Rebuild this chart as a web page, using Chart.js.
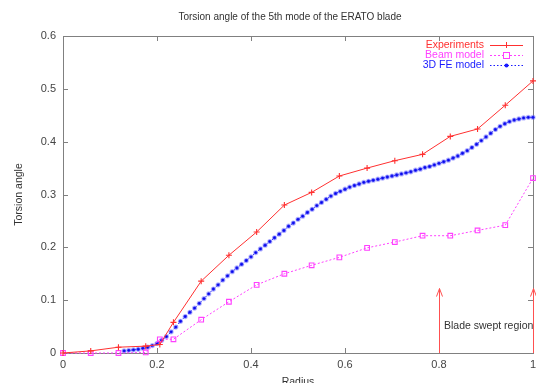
<!DOCTYPE html>
<html>
<head>
<meta charset="utf-8">
<script src="https://cdn.jsdelivr.net/npm/chart.js@4"></script>
<style>
  html, body { margin: 0; padding: 0; background: #fff; }
  #wrap { width: 536px; height: 383px; position: relative; }
</style>
</head>
<body>
<div id="wrap"><canvas id="c"></canvas></div>
<script>
// ── data ─────────────────────────────────────────────
const radiusExp = [0, 0.059, 0.118, 0.176, 0.206, 0.235, 0.294, 0.353, 0.412, 0.471,
                   0.529, 0.588, 0.647, 0.706, 0.765, 0.824, 0.882, 0.941, 1.0];
const experiments = [0, 0.004, 0.011, 0.013, 0.016, 0.058, 0.136, 0.185, 0.229, 0.280,
                     0.304, 0.335, 0.350, 0.364, 0.376, 0.410, 0.424, 0.469, 0.515];
const beamModel = [0, 0, 0, 0.001, 0.026, 0.026, 0.063, 0.097, 0.129, 0.150,
                   0.166, 0.181, 0.199, 0.210, 0.222, 0.222, 0.232, 0.242, 0.331];

const radiusFE = [0.13, 0.14, 0.15, 0.16, 0.17, 0.18, 0.19, 0.20, 0.21, 0.22,
                  0.23, 0.24, 0.25, 0.26, 0.27, 0.28, 0.29, 0.30, 0.31, 0.32,
                  0.33, 0.34, 0.35, 0.36, 0.37, 0.38, 0.39, 0.40, 0.41, 0.42,
                  0.43, 0.44, 0.45, 0.46, 0.47, 0.48, 0.49, 0.50, 0.51, 0.52,
                  0.53, 0.54, 0.55, 0.56, 0.57, 0.58, 0.59, 0.60, 0.61, 0.62,
                  0.63, 0.64, 0.65, 0.66, 0.67, 0.68, 0.69, 0.70, 0.71, 0.72,
                  0.73, 0.74, 0.75, 0.76, 0.77, 0.78, 0.79, 0.80, 0.81, 0.82,
                  0.83, 0.84, 0.85, 0.86, 0.87, 0.88, 0.89, 0.90, 0.91, 0.92,
                  0.93, 0.94, 0.95, 0.96, 0.97, 0.98, 0.99, 1.00];
const feModel = [0.004, 0.005, 0.006, 0.007, 0.009, 0.011, 0.014, 0.018, 0.024, 0.031,
                 0.040, 0.049, 0.060, 0.069, 0.077, 0.085, 0.094, 0.103, 0.112, 0.121,
                 0.129, 0.138, 0.146, 0.154, 0.161, 0.168, 0.175, 0.182, 0.190, 0.197,
                 0.204, 0.211, 0.218, 0.225, 0.232, 0.240, 0.246, 0.253, 0.259, 0.266,
                 0.272, 0.279, 0.285, 0.291, 0.297, 0.302, 0.306, 0.310, 0.314, 0.317,
                 0.320, 0.323, 0.325, 0.327, 0.329, 0.331, 0.333, 0.335, 0.337, 0.339,
                 0.341, 0.343, 0.346, 0.348, 0.351, 0.353, 0.356, 0.359, 0.362, 0.365,
                 0.369, 0.373, 0.378, 0.383, 0.389, 0.395, 0.402, 0.409, 0.416, 0.423,
                 0.429, 0.434, 0.438, 0.441, 0.443, 0.445, 0.446, 0.446];

const xTicks = [0, 0.2, 0.4, 0.6, 0.8, 1];
const yTicks = [0, 0.1, 0.2, 0.3, 0.4, 0.5, 0.6];
const arrowX = [0.8, 1.0];

const FONT = '"Liberation Sans", Arial, sans-serif';
const RED = '#ff3030', PINK = '#ff40ff', BLUE = '#1a1aff';

const pts = (xs, ys) => xs.map((x, i) => ({ x, y: ys[i] }));

// ── gnuplot-ish frame, ticks, titles, legend, arrows ─
const decor = {
    id: 'decor',
    beforeDatasetsDraw(chart) {
        const { ctx, chartArea: a, scales: { x, y } } = chart;
        ctx.save();
        ctx.strokeStyle = '#808080';
        ctx.lineWidth = 1;
        ctx.strokeRect(a.left + 0.5, a.top + 0.5, a.right - a.left, a.bottom - a.top);
        ctx.beginPath();
        xTicks.forEach(v => {
            const px = Math.round(x.getPixelForValue(v)) + 0.5;
            ctx.moveTo(px, a.bottom); ctx.lineTo(px, a.bottom - 5);
            ctx.moveTo(px, a.top); ctx.lineTo(px, a.top + 5);
        });
        yTicks.forEach(v => {
            const py = Math.round(y.getPixelForValue(v)) + 0.5;
            ctx.moveTo(a.left, py); ctx.lineTo(a.left + 5, py);
            ctx.moveTo(a.right, py); ctx.lineTo(a.right - 5, py);
        });
        ctx.stroke();

        // arrows for the swept region
        ctx.strokeStyle = '#ff5050';
        arrowX.forEach(v => {
            const px = Math.round(x.getPixelForValue(v)) + 0.5;
            const top = y.getPixelForValue(0.122);
            ctx.beginPath();
            ctx.moveTo(px, y.getPixelForValue(0)); ctx.lineTo(px, top);
            ctx.moveTo(px - 3, top + 8); ctx.lineTo(px, top); ctx.lineTo(px + 3, top + 8);
            ctx.stroke();
        });
        ctx.fillStyle = '#333';
        ctx.font = '10.5px ' + FONT;
        ctx.textBaseline = 'middle';
        ctx.textAlign = 'left';
        ctx.fillText('Blade swept region', x.getPixelForValue(0.8) + 5, y.getPixelForValue(0.05));

        // titles
        ctx.font = '10px ' + FONT;
        ctx.textAlign = 'center';
        ctx.fillText('Torsion angle of the 5th mode of the ERATO blade', 290, 17);
        ctx.font = '10.5px ' + FONT;
        ctx.fillText('Radius', (a.left + a.right) / 2, 382);
        ctx.translate(19, (a.top + a.bottom) / 2);
        ctx.rotate(-Math.PI / 2);
        ctx.fillText('Torsion angle', 0, 0);
        ctx.restore();
    },
    afterDatasetsDraw(chart) {
        const { ctx } = chart;
        const rows = [
            { label: 'Experiments', color: RED, dash: [], style: 'cross' },
            { label: 'Beam model', color: PINK, dash: [2, 2], style: 'rect' },
            { label: '3D FE model', color: BLUE, dash: [1.5, 2], style: 'dot' }
        ];
        ctx.save();
        ctx.font = '10.5px ' + FONT;
        ctx.textAlign = 'right';
        ctx.textBaseline = 'middle';
        rows.forEach((r, i) => {
            const yy = 45 + i * 10;
            ctx.fillStyle = r.color;
            ctx.fillText(r.label, 484, yy);
            ctx.strokeStyle = r.color;
            ctx.lineWidth = 1;
            ctx.setLineDash(r.dash);
            ctx.beginPath(); ctx.moveTo(490, yy + 0.5); ctx.lineTo(523, yy + 0.5); ctx.stroke();
            ctx.setLineDash([]);
            const cx = 506.5;
            ctx.beginPath();
            if (r.style === 'cross') {
                ctx.moveTo(cx - 3, yy + 0.5); ctx.lineTo(cx + 3, yy + 0.5);
                ctx.moveTo(cx, yy - 3); ctx.lineTo(cx, yy + 3); ctx.stroke();
            } else if (r.style === 'rect') {
                ctx.fillStyle = '#fff';
                ctx.fillRect(cx - 3, yy - 2.5, 6, 6);
                ctx.strokeRect(cx - 3, yy - 2.5, 6, 6);
            } else {
                ctx.fillStyle = r.color;
                ctx.arc(cx, yy + 0.5, 2, 0, Math.PI * 2); ctx.fill();
            }
        });
        ctx.restore();
    }
};

new Chart(document.getElementById('c'), {
    type: 'scatter',
    data: {
        datasets: [
            {
                label: '3D FE model',
                data: pts(radiusFE, feModel),
                showLine: true,
                borderColor: BLUE,
                borderWidth: 1,
                borderDash: [1.5, 2],
                pointStyle: 'circle',
                pointRadius: 1.7,
                pointBorderWidth: 1.8,
                pointBorderColor: 'rgba(90,90,255,0.45)',
                pointBackgroundColor: '#0000e8',
                clip: false,
                order: 3
            },
            {
                label: 'Beam model',
                data: pts(radiusExp, beamModel),
                showLine: true,
                borderColor: PINK,
                borderWidth: 1,
                borderDash: [2, 2],
                pointStyle: 'rect',
                pointRadius: 3.3,
                pointBorderWidth: 1.1,
                pointBorderColor: PINK,
                pointBackgroundColor: 'rgba(255,255,255,0)',
                clip: false,
                order: 2
            },
            {
                label: 'Experiments',
                data: pts(radiusExp, experiments),
                showLine: true,
                borderColor: RED,
                borderWidth: 1,
                pointStyle: 'cross',
                pointRadius: 3,
                pointBorderWidth: 1.1,
                pointBorderColor: RED,
                clip: false,
                order: 1
            }
        ]
    },
    options: {
        responsive: true, maintainAspectRatio: false,
        animation: false,
        layout: { autoPadding: false, padding: { top: 36, right: 3, left: 0, bottom: 0 } },
        plugins: { legend: { display: false }, title: { display: false }, tooltip: { enabled: false } },
        scales: {
            x: {
                type: 'linear', min: 0, max: 1,
                afterFit: s => { s.height = 30; s.paddingLeft = 0; s.paddingRight = 0; },
                afterBuildTicks: s => { s.ticks = xTicks.map(v => ({ value: v })); },
                ticks: { color: '#444', font: { family: FONT, size: 11 }, padding: 5, maxRotation: 0,
                         callback: v => String(v) },
                grid: { display: false, tickLength: 0 },
                border: { display: false }
            },
            y: {
                type: 'linear', min: 0, max: 0.6,
                afterFit: s => { s.width = 63; },
                afterBuildTicks: s => { s.ticks = yTicks.map(v => ({ value: v })); },
                ticks: { color: '#444', font: { family: FONT, size: 11 }, padding: 7,
                         callback: v => String(v) },
                grid: { display: false, tickLength: 0 },
                border: { display: false }
            }
        }
    },
    plugins: [decor]
});
</script>
</body>
</html>
